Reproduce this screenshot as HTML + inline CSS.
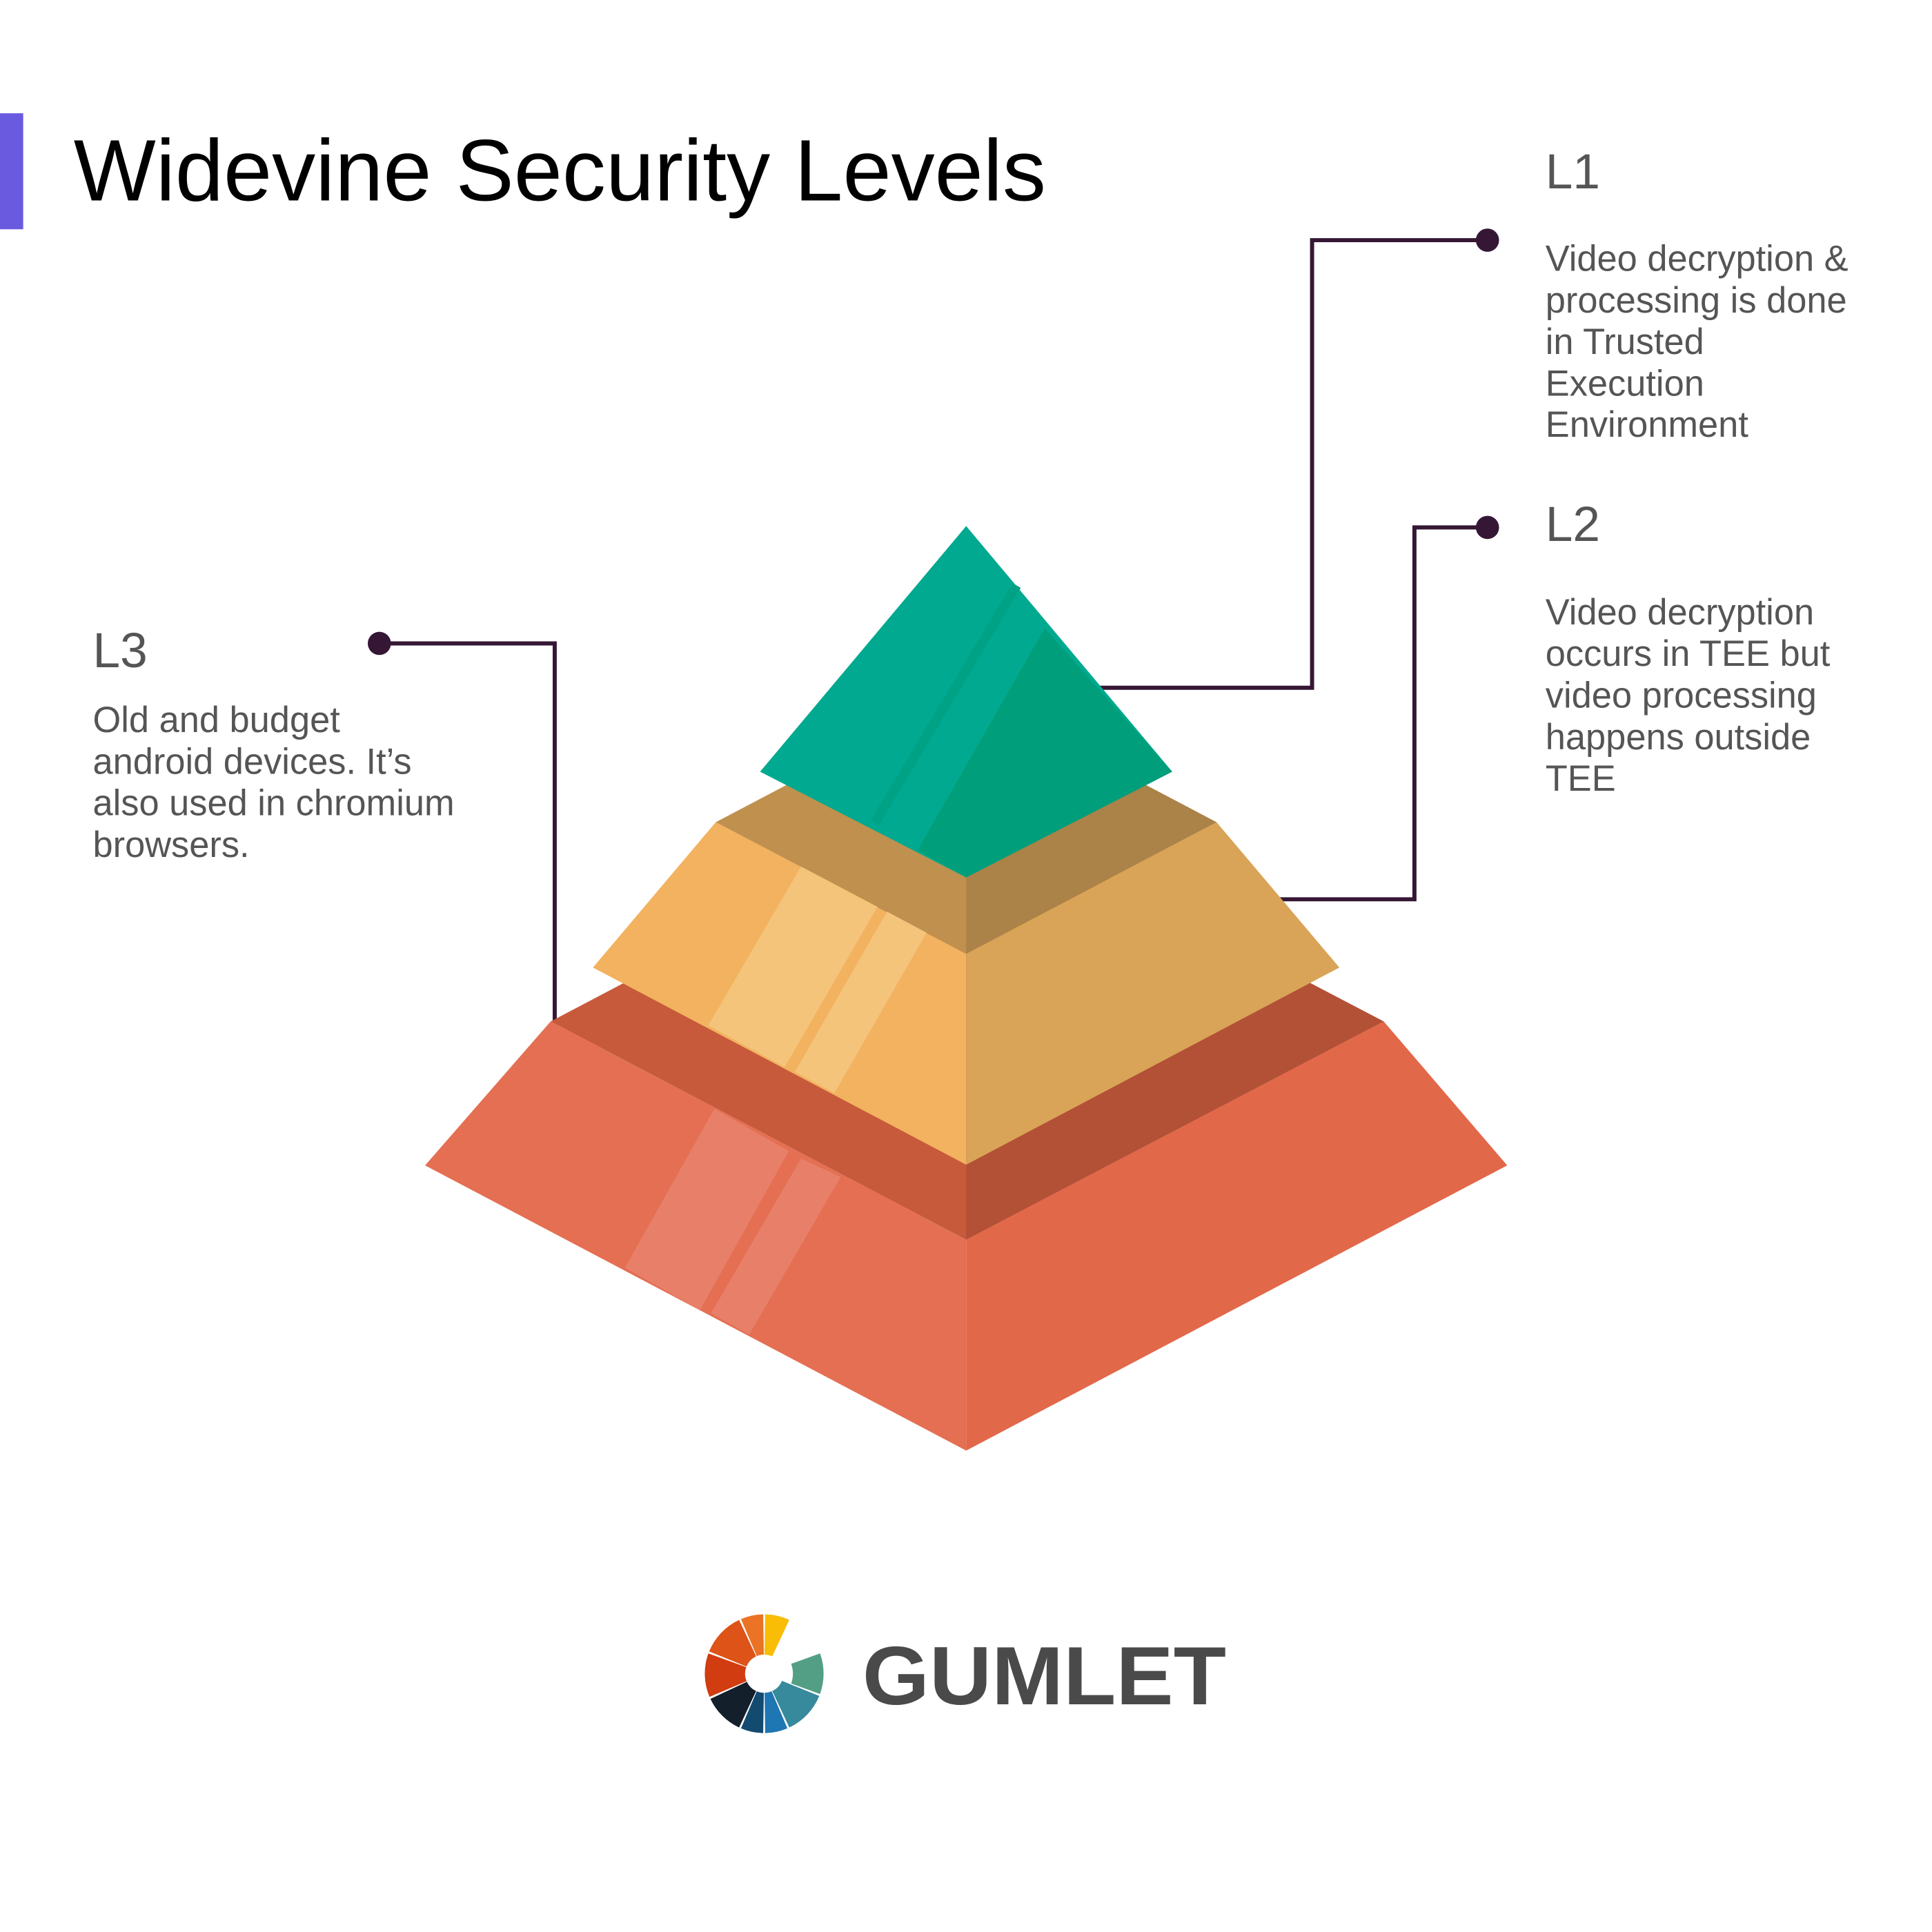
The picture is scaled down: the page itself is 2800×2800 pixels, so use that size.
<!DOCTYPE html>
<html><head><meta charset="utf-8"><style>
html,body{margin:0;padding:0;background:#fff;}
svg{display:block;}
text{font-family:"Liberation Sans",sans-serif;}
</style></head><body>
<svg width="2800" height="2800" viewBox="0 0 2800 2800" xmlns="http://www.w3.org/2000/svg">
<rect width="2800" height="2800" fill="#fff"/>
<g transform="scale(0.98886)">
<rect x="0" y="166" width="34" height="170" fill="#6a5ae0"/>
<text x="108" y="294" font-size="128" fill="#000" textLength="1425" lengthAdjust="spacingAndGlyphs">Widevine Security Levels</text>

<!-- connectors -->
<g fill="none" stroke="#351735" stroke-width="6">
<polyline points="2180,352 1923,352 1923,1008 1600,1008"/>
<polyline points="2180,773 2073,773 2073,1318 1870,1318"/>
<polyline points="556,943 813,943 813,1497"/>
</g>
<g fill="#351735">
<circle cx="2180" cy="352" r="17"/>
<circle cx="2180" cy="773" r="17"/>
<circle cx="556" cy="943" r="17"/>
</g>

<!-- bottom layer -->
<polygon points="807,1497 1416,1177 2028,1497 1416,1817" fill="#c85a3c"/>
<polygon points="1416,1177 2028,1497 1416,1817" fill="#b35137"/>
<polygon points="807,1497 1416,1817 1416,2126 623,1708" fill="#e46f52"/>
<polygon points="1416,1817 2028,1497 2209,1708 1416,2126" fill="#e2684a"/>
<polygon points="1047,1625 1156,1687 1026,1920 916,1858" fill="#e88069"/>
<polygon points="1174,1698 1232,1725 1098,1956 1042,1925" fill="#e88069"/>

<!-- middle layer -->
<polygon points="1049,1205 1416,1012 1783,1205 1416,1398" fill="#c0904e"/>
<polygon points="1416,1012 1783,1205 1416,1398" fill="#ab8247"/>
<polygon points="1049,1205 1416,1398 1416,1707 869,1418" fill="#f2b25f"/>
<polygon points="1416,1398 1783,1205 1963,1418 1416,1707" fill="#d9a457"/>
<polygon points="1174,1270 1286,1329 1150,1564 1038,1503" fill="#f4c47b"/>
<polygon points="1300,1336 1358,1367 1223,1602 1165,1571" fill="#f4c47b"/>

<!-- top -->
<polygon points="1416,771 1718,1131 1416,1286 1114,1131" fill="#00a98f"/>
<polygon points="1531,921 1718,1131 1416,1286 1345,1246" fill="#009e7a"/>
<line x1="1490" y1="858" x2="1282" y2="1206" stroke="#00a286" stroke-width="14"/>

<!-- labels -->
<g fill="#555">
<text x="2265" y="276" font-size="72">L1</text>
<g font-size="53">
<text x="2265" y="397">Video decryption &amp;</text>
<text x="2265" y="458">processing is done</text>
<text x="2265" y="519">in Trusted</text>
<text x="2265" y="580">Execution</text>
<text x="2265" y="640">Environment</text>
</g>
<text x="2265" y="793" font-size="72">L2</text>
<g font-size="53">
<text x="2265" y="915">Video decryption</text>
<text x="2265" y="976">occurs in TEE but</text>
<text x="2265" y="1037">video processing</text>
<text x="2265" y="1098">happens outside</text>
<text x="2265" y="1159">TEE</text>
</g>
<text x="136" y="978" font-size="72">L3</text>
<g font-size="53">
<text x="136" y="1073">Old and budget</text>
<text x="136" y="1134">android devices. It’s</text>
<text x="136" y="1195">also used in chromium</text>
<text x="136" y="1256">browsers.</text>
</g>
</g>

<!-- logo -->
<g id="logo"></g>
<text x="1264" y="2498" font-size="121" font-weight="bold" fill="#4a4a4a" textLength="533" lengthAdjust="spacingAndGlyphs">GUMLET</text>
</g>
</svg>
<script>
(function(){
var cx=1120,cy=2453,R=87,r=28;
var segs=[[1,25,"#f9bd06"],[70,110,"#539f85"],[112,155,"#368a9b"],[157,179,"#1e76b3"],[181,203,"#134a70"],[205,245,"#141f2c"],[247,290,"#d13c10"],[292,335,"#dd5318"],[337,359,"#ea7325"]];
function p(a,rad){var t=(a-90)*Math.PI/180;return (cx+rad*Math.cos(t)).toFixed(1)+","+(cy+rad*Math.sin(t)).toFixed(1);}
var g=document.getElementById("logo"),h="";
segs.forEach(function(s){
var ri=s[0]==70?r+14:r;
h+='<path fill="'+s[2]+'" d="M'+p(s[0],ri)+' L'+p(s[0],R)+' A'+R+','+R+' 0 0 1 '+p(s[1],R)+' L'+p(s[1],ri)+' A'+ri+','+ri+' 0 0 0 '+p(s[0],ri)+' Z"/>';
});
g.innerHTML=h;
})();
</script>
</body></html>
